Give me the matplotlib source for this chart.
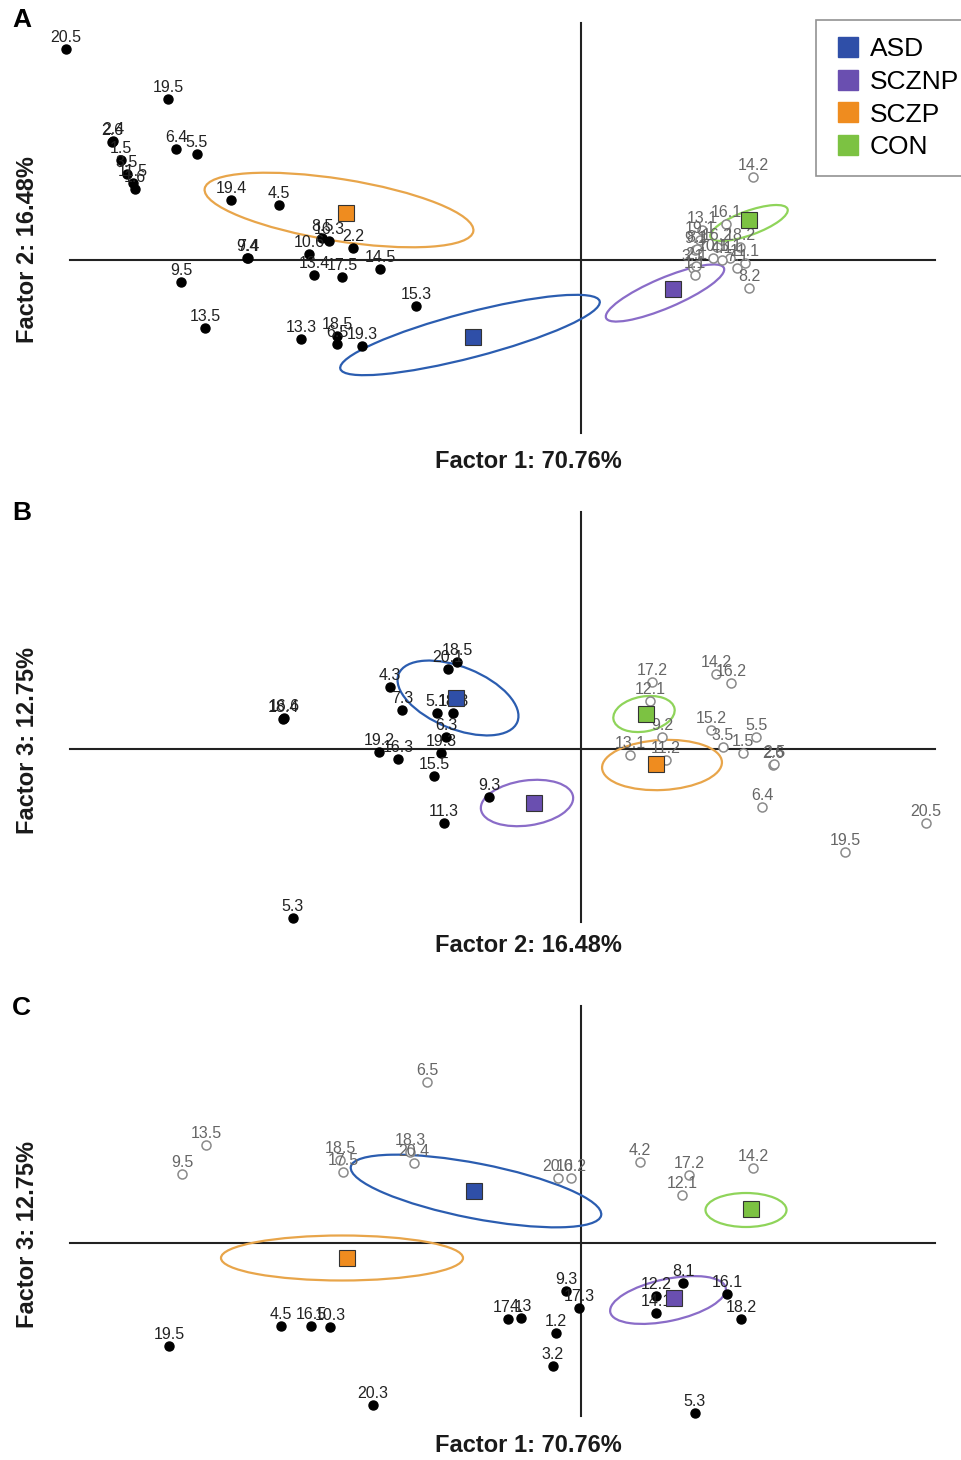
import numpy as np
import matplotlib
matplotlib.use("Agg")
import matplotlib.pyplot as plt
from matplotlib.patches import Ellipse
from matplotlib.lines import Line2D

plt.rcParams['font.family'] = ['Liberation Sans', 'DejaVu Sans']

groups = ["ASD", "SCZNP", "SCZP", "CON"]
group_colors = ["#2f4fa8", "#6a4fb0", "#ef8c1f", "#7cc242"]
ellipse_colors = ["#2b5db0", "#8a6cc8", "#e8a54a", "#8fd45a"]

# ---- panel A : factor 1 vs factor 2
a_filled_lab = ["20.5", "19.5", "2.6", "2.4", "1.5", "3.5", "11.5", "1.6", "6.4", "5.5",
                "19.4", "4.5", "8.5", "16.3", "2.2", "10.6", "9.4", "7.4", "9.5", "13.4",
                "17.5", "14.5", "15.3", "13.5", "13.3", "18.5", "6.5", "19.3"]
a_filled_x = [-5.15, -4.13, -4.69, -4.68, -4.60, -4.54, -4.48, -4.46, -4.05, -3.84,
              -3.50, -3.02, -2.59, -2.52, -2.28, -2.72, -3.34, -3.33, -4.00, -2.67,
              -2.39, -2.01, -1.65, -3.76, -2.80, -2.44, -2.44, -2.19]
a_filled_y = [2.11, 1.61, 1.18, 1.19, 1.00, 0.86, 0.77, 0.71, 1.11, 1.06,
              0.60, 0.55, 0.22, 0.19, 0.12, 0.06, 0.02, 0.02, -0.22, -0.15,
              -0.17, -0.09, -0.46, -0.68, -0.79, -0.76, -0.84, -0.86]
a_open_lab = ["14.2", "16.1", "13.1", "19.1", "18.2", "16.2", "9.1", "8.1", "10.1", "3.1",
              "2.1", "1.1", "11.1", "5.1", "7.1", "8.2", "4.1"]
a_open_x = [1.72, 1.45, 1.21, 1.19, 1.59, 1.36, 1.14, 1.16, 1.32, 1.12,
            1.15, 1.14, 1.64, 1.49, 1.56, 1.68, 1.41]
a_open_y = [0.83, 0.36, 0.30, 0.20, 0.13, 0.13, 0.10, 0.11, 0.02, -0.08,
            -0.06, -0.15, -0.03, 0.02, -0.08, -0.28, 0.00]
a_cent_x = [-1.08, 0.92, -2.35, 1.68]
a_cent_y = [-0.77, -0.29, 0.47, 0.40]
a_ell = [(-1.11, -0.75, 2.68, 0.45, 14.6), (0.84, -0.33, 1.28, 0.30, 23),
         (-2.42, 0.50, 2.72, 0.62, -9), (1.68, 0.37, 0.82, 0.24, 20)]

# ---- panel B : factor 2 vs factor 3
b_filled_lab = ["18.5", "20.1", "4.3", "7.3", "18.4", "16.6", "5.1", "18.3", "6.3", "19.2",
                "16.3", "19.3", "15.5", "9.3", "11.3", "5.3"]
b_filled_x = [-1.24, -1.33, -1.91, -1.79, -2.98, -2.97, -1.44, -1.28, -1.35, -2.02,
              -1.83, -1.40, -1.47, -0.92, -1.37, -2.88]
b_filled_y = [0.87, 0.80, 0.62, 0.39, 0.30, 0.31, 0.36, 0.36, 0.12, -0.03,
              -0.10, -0.04, -0.27, -0.48, -0.74, -1.69]
b_open_lab = ["17.2", "12.1", "14.2", "16.2", "15.2", "5.5", "9.2", "3.5", "1.5", "13.1",
              "11.2", "2.6", "2.5", "6.4", "19.5", "20.5"]
b_open_x = [0.71, 0.69, 1.35, 1.50, 1.30, 1.75, 0.81, 1.42, 1.62, 0.49,
            0.85, 1.92, 1.93, 1.81, 2.64, 3.45]
b_open_y = [0.67, 0.48, 0.75, 0.66, 0.19, 0.12, 0.12, 0.02, -0.04, -0.06,
            -0.11, -0.16, -0.15, -0.58, -1.03, -0.74]
b_cent_x = [-1.25, -0.47, 0.75, 0.65]
b_cent_y = [0.51, -0.54, -0.15, 0.35]
b_ell = [(-1.23, 0.51, 1.28, 0.62, -22), (-0.54, -0.54, 0.93, 0.45, 8),
         (0.81, -0.16, 1.20, 0.50, 3), (0.63, 0.35, 0.62, 0.35, 10)]

# ---- panel C : factor 1 vs factor 3
c_filled_lab = ["19.5", "4.5", "16.5", "10.3", "20.3", "17.1", "4.3", "9.3", "17.3", "1.2",
                "3.2", "8.1", "12.2", "14.1", "16.1", "18.2", "5.3"]
c_filled_x = [-4.12, -3.00, -2.70, -2.51, -2.08, -0.73, -0.60, -0.15, -0.02, -0.25,
              -0.28, 1.02, 0.75, 0.75, 1.46, 1.60, 1.14]
c_filled_y = [-1.03, -0.83, -0.83, -0.84, -1.62, -0.76, -0.75, -0.48, -0.65, -0.90,
              -1.23, -0.40, -0.53, -0.70, -0.51, -0.76, -1.70]
c_open_lab = ["6.5", "13.5", "9.5", "18.5", "17.5", "18.3", "20.4", "20.6", "10.2", "4.2",
              "17.2", "12.1", "14.2"]
c_open_x = [-1.54, -3.75, -3.99, -2.41, -2.38, -1.71, -1.67, -0.23, -0.10, 0.59,
            1.08, 1.01, 1.72]
c_open_y = [1.61, 0.98, 0.69, 0.83, 0.71, 0.91, 0.80, 0.65, 0.65, 0.81,
            0.68, 0.48, 0.75]
c_cent_x = [-1.07, 0.93, -2.34, 1.70]
c_cent_y = [0.52, -0.55, -0.15, 0.34]
c_ell = [(-1.05, 0.52, 2.55, 0.55, -11), (0.87, -0.57, 1.18, 0.42, 12),
         (-2.39, -0.15, 2.42, 0.45, 0), (1.65, 0.33, 0.81, 0.34, 0)]

W, H = 961, 1460
fig = plt.figure(figsize=(W / 100, H / 100), dpi=100)


def panel(top, bottom, oy, fl, fx, fy, ol, ox, oy_, cx, cy, ells):
    ax = fig.add_axes([0, 1 - bottom / H, 1, (bottom - top) / H])
    ax.set_xlim(-5.81, 3.80)
    ax.set_ylim((oy - bottom) / 100, (oy - top) / 100)
    ax.axis('off')
    for (ex, ey, ew, eh, ang), col in zip(ells, ellipse_colors):
        ax.add_patch(Ellipse((ex, ey), ew, eh, angle=ang, fill=False,
                             edgecolor=col, linewidth=1.6, zorder=2))
    ax.plot([-5.11, 3.54], [0, 0], color='#222222', lw=1.5, zorder=1)
    ax.plot([0, 0], [-1.73, 2.37], color='#222222', lw=1.5, zorder=1)
    ax.plot(ox, oy_, 'o', ms=6.5, mfc='white', mec='#8a8a8a', mew=1.1, ls='none', zorder=3)
    for t, x, y in zip(ol, ox, oy_):
        ax.annotate(t, (x, y), xytext=(0, 3), textcoords='offset points',
                    ha='center', va='bottom', fontsize=11.5, color='#666666', zorder=4)
    ax.plot(fx, fy, 'o', ms=6.5, color='black', ls='none', zorder=3)
    for t, x, y in zip(fl, fx, fy):
        ax.annotate(t, (x, y), xytext=(0, 3), textcoords='offset points',
                    ha='center', va='bottom', fontsize=11.5, color='#222222', zorder=4)
    for x, y, col in zip(cx, cy, group_colors):
        ax.plot(x, y, 's', ms=11.5, mfc=col, mec='#333333', mew=0.8, zorder=5)
    return ax


panel(0, 487, 260, a_filled_lab, a_filled_x, a_filled_y, a_open_lab, a_open_x, a_open_y,
      a_cent_x, a_cent_y, a_ell)
panel(487, 975, 749, b_filled_lab, b_filled_x, b_filled_y, b_open_lab, b_open_x, b_open_y,
      b_cent_x, b_cent_y, b_ell)
panel(975, 1460, 1243, c_filled_lab, c_filled_x, c_filled_y, c_open_lab, c_open_x, c_open_y,
      c_cent_x, c_cent_y, c_ell)

lab_kw = dict(fontsize=17, fontweight='bold', color='#1a1a1a', ha='center', va='center')
fig.text(528 / W, 1 - 462 / H, "Factor 1: 70.76%", **lab_kw)
fig.text(528 / W, 1 - 946 / H, "Factor 2: 16.48%", **lab_kw)
fig.text(528 / W, 1 - 1446 / H, "Factor 1: 70.76%", **lab_kw)
fig.text(28 / W, 1 - 250 / H, "Factor 2: 16.48%", rotation=90, **lab_kw)
fig.text(28 / W, 1 - 740 / H, "Factor 3: 12.75%", rotation=90, **lab_kw)
fig.text(28 / W, 1 - 1235 / H, "Factor 3: 12.75%", rotation=90, **lab_kw)

for letter, y in zip(["A", "B", "C"], [8, 501, 996]):
    fig.text(12 / W, 1 - y / H, letter, fontsize=19, fontweight='bold', va='top', ha='left')

handles = [Line2D([], [], marker='s', ls='none', ms=15, mfc=c, mec=c) for c in group_colors]
leg = fig.legend(handles, groups, loc='upper left', bbox_to_anchor=(816 / W, 1 - 20 / H),
                 fontsize=19, frameon=True, fancybox=False, borderpad=0.65,
                 labelspacing=0.33, handletextpad=0.3, handlelength=1.1, borderaxespad=0)
leg.get_frame().set_edgecolor('#777777')
leg.get_frame().set_linewidth(1.2)

fig.savefig("out.png", dpi=100)
